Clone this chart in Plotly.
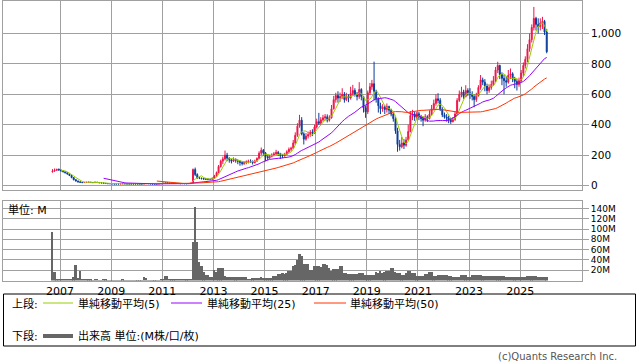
import pandas as pd
import plotly.graph_objects as go

# ---------------- data (monthly, 2006-09 .. 2026-01) ----------------
start_month = "2006-09-01"

open_ = [
    90, 95, 100, 106,
    102, 96, 90, 84, 76, 66, 52, 38, 30, 24, 21, 19,
    20, 21, 22, 20, 19, 22, 20, 18, 17, 15, 13, 12,
    12, 11, 10, 10, 10, 11, 12, 11, 10, 10, 10, 10,
    10, 10, 10, 10, 11, 13, 12, 11, 10, 10, 10, 11,
    13, 15, 18, 16, 15, 14, 14, 13, 13, 12, 13, 12,
    12, 13, 16, 105, 72, 50, 48, 45, 43, 42, 40, 40,
    48, 62, 85, 125, 160, 175, 200, 180, 168, 160, 172, 165,
    160, 152, 145, 150, 156, 160, 158, 150, 162, 178, 212, 232,
    215, 190, 182, 192, 200, 208, 218, 210, 198, 195, 205, 222,
    238, 245, 280, 330, 390, 430, 340, 305, 325, 335, 350, 345,
    385, 420, 410, 432, 445, 452, 430, 445, 505, 565, 592, 575,
    585, 600, 565, 585, 575, 605, 625, 600, 585, 632, 585, 510,
    485, 610, 650, 670, 620, 570, 525, 505, 515, 500, 520, 495,
    470, 440, 360, 270, 255, 280, 265, 300, 355, 460, 470, 450,
    472, 450, 440, 430, 452, 440, 470, 505, 540, 570, 560, 500,
    465, 450, 445, 430, 420, 435, 470, 560, 600, 615, 585, 625,
    610, 600, 585, 565, 590, 645, 695, 680, 655, 625, 645, 665,
    690, 760, 790, 730, 705, 690, 680, 725, 735, 700, 685, 665,
    690, 740, 790, 830, 900, 960, 1040, 1100, 1060, 1045, 1070, 1080,
    1010,
]
high_ = [
    108, 112, 110, 112,
    104, 98, 92, 86, 78, 68, 55, 42, 32, 26, 23, 22,
    23, 24, 23, 21, 24, 23, 20, 19, 17, 16, 14, 13,
    12, 11, 11, 11, 12, 14, 12, 11, 11, 11, 11, 11,
    11, 11, 11, 12, 16, 14, 12, 11, 11, 11, 12, 15,
    18, 22, 19, 17, 16, 15, 15, 14, 14, 14, 14, 13,
    14, 18, 112, 118, 80, 58, 52, 50, 48, 46, 45, 52,
    70, 92, 135, 170, 190, 230, 215, 185, 175, 185, 178, 172,
    165, 160, 160, 165, 170, 172, 165, 170, 185, 225, 250, 240,
    220, 198, 200, 212, 220, 235, 228, 215, 205, 215, 232, 250,
    255, 300, 350, 410, 465, 450, 350, 345, 355, 365, 370, 400,
    440, 478, 450, 465, 470, 468, 462, 530, 590, 610, 620, 612,
    640, 615, 610, 600, 650, 662, 640, 615, 680, 640, 590, 525,
    625, 675, 695, 815, 630, 580, 545, 535, 530, 540, 525, 505,
    480, 450, 380, 300, 320, 305, 320, 400, 490, 498, 485, 485,
    485, 465, 455, 470, 462, 495, 530, 565, 600, 607, 575, 515,
    480, 470, 460, 445, 450, 490, 575, 625, 650, 630, 660, 640,
    640, 620, 600, 610, 660, 727, 710, 700, 670, 665, 690, 720,
    780, 814, 795, 745, 730, 720, 760, 770, 745, 715, 700, 710,
    760, 810, 850, 930, 1000, 1060, 1175, 1110, 1100, 1100, 1110, 1090,
    1030,
]
low_ = [
    85, 90, 96, 98,
    94, 88, 80, 72, 62, 48, 34, 26, 20, 19, 17, 17,
    19, 20, 19, 18, 18, 19, 17, 16, 14, 12, 11, 11,
    10, 9, 9, 9, 10, 10, 10, 9, 9, 9, 9, 9,
    9, 9, 9, 10, 10, 11, 10, 9, 9, 9, 10, 10,
    12, 14, 14, 13, 13, 13, 12, 12, 11, 11, 11, 11,
    11, 12, 15, 62, 45, 42, 40, 38, 37, 35, 34, 38,
    45, 58, 80, 118, 140, 165, 160, 150, 145, 155, 150, 140,
    130, 132, 135, 140, 145, 148, 138, 145, 155, 175, 200, 195,
    160, 165, 175, 185, 195, 200, 195, 175, 180, 190, 200, 215,
    225, 240, 270, 320, 380, 330, 270, 295, 310, 320, 325, 340,
    375, 398, 400, 420, 428, 415, 420, 440, 500, 545, 545, 550,
    570, 545, 555, 548, 565, 590, 585, 560, 570, 560, 480, 445,
    470, 595, 630, 560, 545, 480, 470, 485, 470, 480, 470, 455,
    420, 340, 222, 230, 245, 240, 255, 295, 350, 430, 425, 435,
    430, 420, 390, 420, 418, 435, 460, 495, 525, 540, 490, 450,
    440, 420, 410, 405, 415, 425, 465, 550, 580, 570, 580, 590,
    570, 560, 515, 550, 585, 630, 660, 620, 600, 610, 630, 655,
    680, 740, 700, 660, 600, 650, 670, 700, 680, 640, 625, 650,
    680, 720, 770, 810, 880, 940, 1020, 1020, 1000, 1020, 1030, 990,
    870,
]
close_ = [
    95, 100, 106, 102,
    96, 90, 84, 76, 66, 52, 38, 30, 24, 21, 19, 20,
    21, 22, 20, 19, 22, 20, 18, 17, 15, 13, 12, 12,
    11, 10, 10, 10, 11, 12, 11, 10, 10, 10, 10, 10,
    10, 10, 10, 11, 13, 12, 11, 10, 10, 10, 11, 13,
    15, 18, 16, 15, 14, 14, 13, 13, 12, 13, 12, 12,
    13, 16, 105, 72, 50, 48, 45, 43, 42, 40, 40, 48,
    62, 85, 125, 160, 175, 200, 180, 168, 160, 172, 165, 160,
    152, 145, 150, 156, 160, 158, 150, 162, 178, 212, 232, 215,
    190, 182, 192, 200, 208, 218, 210, 198, 195, 205, 222, 238,
    245, 280, 330, 390, 430, 340, 305, 325, 335, 350, 345, 385,
    420, 410, 432, 445, 452, 430, 445, 505, 565, 592, 575, 585,
    600, 565, 585, 575, 605, 625, 600, 585, 632, 585, 510, 485,
    610, 650, 670, 620, 570, 525, 505, 515, 500, 520, 495, 470,
    440, 360, 270, 255, 280, 265, 300, 355, 460, 470, 450, 472,
    450, 440, 430, 452, 440, 470, 505, 540, 570, 560, 500, 465,
    450, 445, 430, 420, 435, 470, 560, 600, 615, 585, 625, 610,
    600, 585, 565, 590, 645, 695, 680, 655, 625, 645, 665, 690,
    760, 790, 730, 705, 690, 680, 725, 735, 700, 685, 665, 690,
    740, 790, 830, 900, 960, 1040, 1100, 1060, 1045, 1070, 1080, 1010,
    880,
]
volume_m = [
    95, 17, 3, 2,
    2, 2, 2, 2, 1, 3, 7, 30, 4, 18, 3, 1,
    2, 1.5, 1.5, 0.5, 1.5, 1.5, 0.3, 0.3, 1, 1, 0.3, 0.3,
    0.2, 0.2, 0.2, 0.2, 0.3, 2, 0.3, 0.2, 0.2, 0.2, 0.2, 0.2,
    0.2, 0.2, 0.3, 6, 5, 0.5, 0.3, 0.2, 0.2, 0.3, 0.5, 1,
    2, 9, 8, 2, 2, 2, 2, 2, 1.5, 1, 1, 1.5,
    3, 3, 74, 143, 74, 36, 28, 17, 10, 10, 7, 7,
    21, 17, 24, 24, 24, 8, 6, 6, 6, 6, 6, 6,
    6, 6, 6, 6, 2, 2, 4, 4, 4, 4, 7, 5,
    5, 5, 5, 5, 8, 8, 12, 12, 15, 12, 14, 19,
    19, 28, 30, 40, 51, 47, 32, 32, 32, 20, 20, 28,
    28, 28, 27, 32, 32, 30, 24, 19, 22, 22, 22, 28,
    28, 14, 14, 12, 12, 12, 12, 12, 14, 14, 14, 11,
    11, 11, 11, 11, 17, 14, 19, 14, 17, 19, 19, 24,
    24, 16, 14, 14, 11, 11, 14, 19, 19, 14, 14, 9,
    9, 9, 9, 12, 12, 16, 16, 9, 9, 11, 11, 11,
    11, 11, 9, 9, 7, 7, 7, 7, 10, 10, 10, 7,
    7, 10, 11, 11, 10, 10, 9, 9, 9, 9, 8, 8,
    8, 8, 9, 9, 9, 6, 6, 6, 7, 7, 7, 7,
    7, 7, 7, 8, 8, 8, 9, 9, 6, 6, 6, 6,
    6,
]
price_ticks = [0, 200, 400, 600, 800, 1000]
price_tick_labels = ["0", "200", "400", "600", "800", "1,000"]
vol_ticks = [20, 40, 60, 80, 100, 120, 140]
vol_tick_labels = ["20M", "40M", "60M", "80M", "100M", "120M", "140M"]
year_ticks = [f"{y}-01-01" for y in range(2007, 2026, 2)]
year_tick_labels = [str(y) for y in range(2007, 2026, 2)]
ma_periods = [5, 25, 50]

# ---------------- styling ----------------
W, H = 638, 362
GRID = "#a0a0a0"
UP = "#f0144a"
DOWN = "#0a3c9c"
MA_COLORS = {5: "#99cc00", 25: "#9900ff", 50: "#ff3300"}
VOL_COLOR = "#666666"
FONT = "DejaVu Sans, Noto Sans CJK JP, sans-serif"


def px_x(p):
    return p / W


def px_y(p):
    return 1 - p / H


months = pd.date_range(start_month, periods=len(close_), freq="MS") + pd.Timedelta(days=14)
close_s = pd.Series(close_, dtype=float)

fig = go.Figure()
fig.add_trace(go.Candlestick(
    x=months, open=open_, high=high_, low=low_, close=close_,
    increasing=dict(line=dict(color=UP, width=1), fillcolor=UP),
    decreasing=dict(line=dict(color=DOWN, width=1), fillcolor=DOWN),
    whiskerwidth=0, xaxis="x", yaxis="y", showlegend=False, hoverinfo="skip",
))
for p in ma_periods:
    fig.add_trace(go.Scatter(
        x=months, y=close_s.rolling(p).mean(), mode="lines",
        line=dict(color=MA_COLORS[p], width=1), xaxis="x", yaxis="y",
        showlegend=False, hoverinfo="skip",
    ))
fig.add_trace(go.Bar(
    x=months, y=volume_m, marker=dict(color=VOL_COLOR, line=dict(width=0)),
    xaxis="x2", yaxis="y2", showlegend=False, hoverinfo="skip",
))

xdom = [px_x(3), px_x(582)]
xrange_ = ["2004-10-08", "2027-06-03"]
common_x = dict(domain=xdom, range=xrange_, type="date", showgrid=True, gridcolor=GRID,
                gridwidth=1, tickvals=year_ticks, showline=True, linecolor=GRID,
                linewidth=1, mirror=True, zeroline=False)

fig.update_layout(
    width=W, height=H, margin=dict(l=0, r=0, t=0, b=0),
    paper_bgcolor="white", plot_bgcolor="white",
    font=dict(family=FONT, size=11, color="#000000"),
    bargap=0,
    xaxis=dict(**common_x, anchor="y", showticklabels=False, ticks="",
               rangeslider=dict(visible=False)),
    yaxis=dict(domain=[px_y(190), px_y(1)], range=[-29.6, 1214], side="right",
               tickvals=price_ticks, ticktext=price_tick_labels, ticks="outside",
               ticklen=6, tickcolor=GRID, showgrid=True, gridcolor=GRID,
               showline=True, linecolor=GRID, mirror=True, zeroline=False,
               anchor="x", tickfont=dict(size=10.5)),
    xaxis2=dict(**common_x, anchor="y2", ticktext=year_tick_labels, ticks="",
                tickfont=dict(size=11)),
    yaxis2=dict(domain=[px_y(280.5), px_y(201)], range=[0, 154.4], side="right",
                tickvals=vol_ticks, ticktext=vol_tick_labels, ticks="outside",
                ticklen=6, tickcolor=GRID, showgrid=True, gridcolor=GRID,
                showline=True, linecolor=GRID, mirror=True, zeroline=False,
                anchor="x2", tickfont=dict(size=9)),
)

shapes = [
    dict(type="rect", xref="paper", yref="paper", x0=px_x(3.5), x1=px_x(635.5),
         y0=px_y(346), y1=px_y(294), line=dict(color="#000000", width=1)),
    dict(type="line", xref="paper", yref="paper", x0=px_x(43), x1=px_x(73),
         y0=px_y(303), y1=px_y(303), line=dict(color=MA_COLORS[5], width=1)),
    dict(type="line", xref="paper", yref="paper", x0=px_x(171), x1=px_x(202),
         y0=px_y(303), y1=px_y(303), line=dict(color=MA_COLORS[25], width=1)),
    dict(type="line", xref="paper", yref="paper", x0=px_x(314), x1=px_x(346),
         y0=px_y(303), y1=px_y(303), line=dict(color=MA_COLORS[50], width=1)),
    dict(type="line", xref="paper", yref="paper", x0=px_x(43), x1=px_x(73),
         y0=px_y(336), y1=px_y(336), line=dict(color=VOL_COLOR, width=4)),
]
fig.update_layout(shapes=shapes)


def txt(s, x, y, anchor="left", color="#000000", size=11, h=None):
    a = dict(text=s, x=px_x(x), y=px_y(y), xref="paper", yref="paper",
             xanchor=anchor, yanchor="middle", showarrow=False, borderpad=0,
             font=dict(family=FONT, size=size, color=color))
    if h is not None:
        a["height"] = h
    return a


fig.update_layout(annotations=[
    txt("上段:", 11, 303.5, h=12),
    txt("単純移動平均(5)", 77, 303.5, h=12),
    txt("単純移動平均(25)", 206, 303.5, h=12),
    txt("単純移動平均(50)", 349, 303.5, h=12),
    txt("下段:", 11, 336, h=12),
    txt("出来高 単位:(M株/口/枚)", 77, 336, h=12),
    txt("単位: M", 7, 210, h=12),
    txt("(c)Quants Research Inc.", 618, 356, anchor="right", color="#555555",
        size=10, h=11),
])

fig.write_html(
    "out.html",
    config={"displayModeBar": False},
    post_script="document.body.style.margin='0px';document.body.style.overflow='hidden';",
)
